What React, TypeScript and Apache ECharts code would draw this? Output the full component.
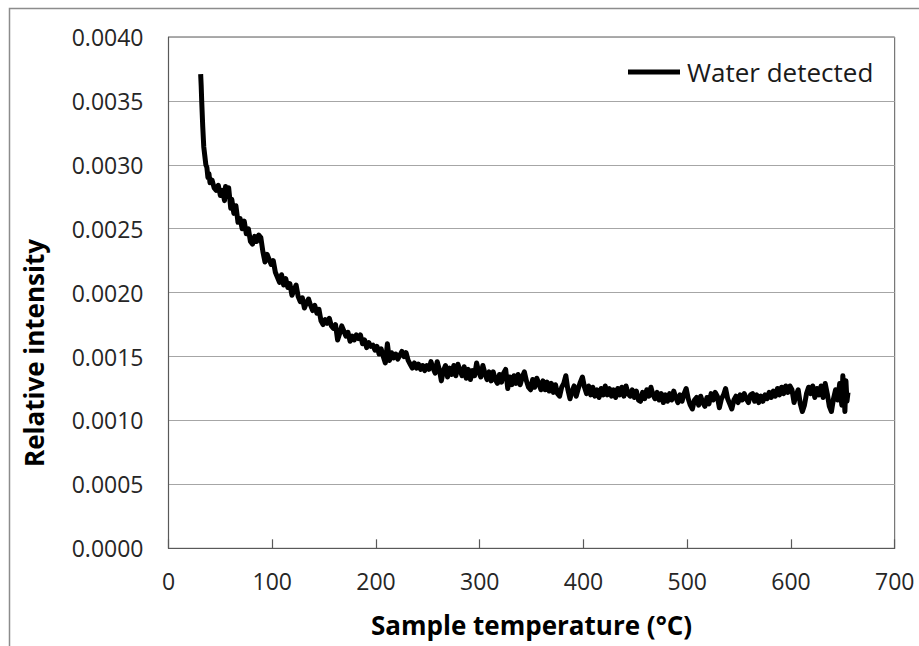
import React, { useEffect, useRef } from "react";
import * as echarts from "echarts";

const temperatures: number[] = [
  31, 31.5, 32, 33, 34, 35, 36, 37, 38, 39, 40, 42, 44, 46, 48, 50, 52, 54, 55, 56, 58, 60, 61, 63, 65, 67, 69, 71, 73, 75,
  77, 79, 81, 83, 85, 87, 89, 91, 93, 95, 97, 99, 101, 103, 105, 107, 109, 111, 113, 115, 117, 119, 121, 123, 125, 127, 129, 131, 133, 135,
  137, 139, 141, 143, 145, 147, 149, 151, 153, 155, 157, 159, 161, 163, 165, 167, 169, 171, 173, 175, 177, 179, 181, 183, 185, 187, 189, 191, 193, 195,
  197, 199, 201, 203, 205, 207, 209, 211, 213, 215, 217, 219, 221, 223, 225, 227, 229, 231, 233, 235, 237, 239, 241, 243, 245, 247, 249, 251, 253, 255,
  257, 259, 261, 263, 265, 267, 269, 271, 273, 275, 277, 279, 281, 283, 285, 287, 289, 291, 293, 295, 297, 299, 301, 303, 305, 307, 309, 311, 313, 315,
  317, 319, 321, 323, 325, 327, 329, 331, 333, 335, 337, 339, 341, 343, 345, 347, 349, 351, 353, 355, 357, 359, 361, 363, 365, 367, 369, 371, 373, 375,
  377, 379, 381, 383, 385, 387, 389, 391, 393, 395, 397, 399, 401, 403, 405, 407, 409, 411, 413, 415, 417, 419, 421, 423, 425, 427, 429, 431, 433, 435,
  437, 439, 441, 443, 445, 447, 449, 451, 453, 455, 457, 459, 461, 463, 465, 467, 469, 471, 473, 475, 477, 479, 481, 483, 485, 487, 489, 491, 493, 495,
  497, 499, 501, 503, 505, 507, 509, 511, 513, 515, 517, 519, 521, 523, 525, 527, 529, 531, 533, 535, 537, 539, 541, 543, 545, 547, 549, 551, 553, 555,
  557, 559, 561, 563, 565, 567, 569, 571, 573, 575, 577, 579, 581, 583, 585, 587, 589, 591, 593, 595, 597, 599, 601, 603, 605, 607, 609, 611, 613, 615,
  617, 619, 621, 623, 625, 627, 629, 631, 633, 635, 637, 639, 641, 643, 645, 647, 649, 650, 651, 652, 653, 654, 655,
];

const waterDetected: number[] = [
  0.00371, 0.00362, 0.0035, 0.0033, 0.00314, 0.00307, 0.003, 0.00298, 0.0029, 0.00293, 0.00286, 0.00288, 0.00282, 0.0028, 0.00284, 0.00276, 0.0028, 0.00272, 0.00283, 0.00278, 0.00282, 0.00266, 0.00273, 0.00262, 0.00268, 0.00255, 0.00258, 0.0025, 0.00256, 0.00246,
  0.0025, 0.0024, 0.00238, 0.00244, 0.0024, 0.00245, 0.00243, 0.00232, 0.00224, 0.0023, 0.00226, 0.00222, 0.00225, 0.00216, 0.00212, 0.00208, 0.00214, 0.00206, 0.00211, 0.00204, 0.00207, 0.00198, 0.00202, 0.00206, 0.00197, 0.00193, 0.00196, 0.00188, 0.00192, 0.00195,
  0.0019, 0.00186, 0.0019, 0.00184, 0.00187, 0.00178, 0.00175, 0.00179, 0.00176, 0.0018, 0.00174, 0.00172, 0.00175, 0.00163, 0.00168, 0.00174, 0.0017, 0.00166, 0.00169, 0.00162, 0.00166, 0.00163, 0.00167, 0.00164, 0.00167, 0.0016, 0.00163, 0.00157, 0.00161, 0.00158,
  0.00159, 0.00155, 0.00158, 0.00152, 0.00156, 0.0015, 0.00145, 0.0016, 0.00147, 0.00153, 0.00149, 0.00152, 0.00148, 0.00151, 0.00154, 0.0015, 0.00153, 0.00147, 0.00144, 0.00141, 0.00145, 0.00141, 0.00144, 0.0014, 0.00143, 0.00139, 0.00143, 0.0014, 0.00146, 0.00141,
  0.00137, 0.00146, 0.0014, 0.00131, 0.00139, 0.00143, 0.00134, 0.00141, 0.00136, 0.00143, 0.00135, 0.00144, 0.00139, 0.00135, 0.00142, 0.00133, 0.0014, 0.00132, 0.00139, 0.00135, 0.00145, 0.00138, 0.00134, 0.00143, 0.00137, 0.00132, 0.00138, 0.00131, 0.00138, 0.00132,
  0.00129, 0.00136, 0.0013, 0.00137, 0.0014, 0.00125, 0.00134, 0.00128, 0.00135, 0.00129, 0.00136, 0.00128, 0.00134, 0.00138, 0.00131, 0.00126, 0.00124, 0.00132, 0.00126, 0.00133, 0.00129, 0.00124, 0.00131, 0.00124, 0.0013, 0.00123, 0.00129, 0.00122, 0.00128, 0.00121,
  0.00119, 0.00126, 0.00129, 0.00135, 0.00124, 0.00117, 0.00123, 0.00127, 0.00119, 0.00125, 0.0013, 0.00134, 0.00126, 0.00121, 0.00127, 0.0012, 0.00126, 0.00119, 0.00124, 0.00118, 0.00125, 0.0012, 0.00127, 0.0012, 0.00125, 0.00119, 0.00124, 0.00118, 0.00125, 0.0012,
  0.00126, 0.00119, 0.00127, 0.00121, 0.00119, 0.00124, 0.00118, 0.00123, 0.00116, 0.00115, 0.00122, 0.00117, 0.00124, 0.00119, 0.00126, 0.0012, 0.00117, 0.00122, 0.00116, 0.00121, 0.00114, 0.0012, 0.00115, 0.00121, 0.00116, 0.00123, 0.00118, 0.00114, 0.0012, 0.00115,
  0.00121, 0.00125, 0.00117, 0.00112, 0.00109, 0.00116, 0.00118, 0.00112, 0.00119, 0.00114, 0.00111, 0.00118, 0.00113, 0.00121, 0.00116, 0.00122, 0.00119, 0.0011, 0.00117, 0.0012, 0.00125, 0.00117, 0.00113, 0.00109, 0.00116, 0.00119, 0.00114, 0.0012, 0.00116, 0.00121,
  0.00117, 0.00114, 0.0012, 0.00121, 0.00115, 0.0012, 0.00114, 0.00119, 0.00115, 0.0012, 0.00117, 0.00122, 0.00118, 0.00123, 0.00119, 0.00125, 0.0012, 0.00126, 0.00121, 0.00127, 0.00122, 0.00127, 0.00124, 0.00114, 0.0012, 0.00124, 0.00113, 0.00107, 0.00112, 0.00121,
  0.00126, 0.00121, 0.00127, 0.00118, 0.00125, 0.0012, 0.00127, 0.00118, 0.00129, 0.00121, 0.00111, 0.00107, 0.00117, 0.00124, 0.00116, 0.00129, 0.00112, 0.00135, 0.00123, 0.00107, 0.00131, 0.00115, 0.00122,
];

const xTicks = { min: 0, max: 700, interval: 100 };
const yTicks = { min: 0, max: 0.004, interval: 0.0005 };
const seriesName = "Water detected";
const xTitle = "Sample temperature (°C)";
const yTitle = "Relative intensity";

const FONT = "'Open Sans', 'Liberation Sans', sans-serif";

export default function App() {
  const ref = useRef<HTMLDivElement>(null);
  useEffect(() => {
    document.body.style.margin = "0";
    if (!ref.current) return;
    const chart = echarts.init(ref.current, null, { renderer: "svg" });
    const points = temperatures.map((t, i) => [t, waterDetected[i]]);
    chart.setOption({
      animation: false,
      backgroundColor: "#ffffff",
      textStyle: { fontFamily: FONT },
      grid: {
        left: 168.5,
        top: 37,
        right: 24.3,
        bottom: 97.7,
        show: true,
        borderColor: "#595959",
        borderWidth: 1,
        containLabel: false,
      },
      legend: {
        show: true,
        left: 623,
        top: 54,
        icon: "rect",
        itemWidth: 52,
        itemHeight: 5,
        textStyle: { fontFamily: FONT, fontSize: 26, color: "#1a1a1a", padding: [0, 0, 0, 2] },
        data: [{ name: seriesName, itemStyle: { color: "#000" } }],
      },
      xAxis: {
        type: "value",
        min: xTicks.min,
        max: xTicks.max,
        interval: xTicks.interval,
        name: xTitle,
        nameLocation: "middle",
        nameGap: 64,
        nameTextStyle: { fontFamily: FONT, fontSize: 26, fontWeight: "bold", color: "#000" },
        axisLine: { show: true, lineStyle: { color: "#595959", width: 1.2 } },
        axisTick: { show: true, inside: true, length: 9, lineStyle: { color: "#595959", width: 1.2 } },
        axisLabel: { fontFamily: FONT, fontSize: 23, color: "#262626", margin: 21 },
        splitLine: { show: false },
      },
      yAxis: {
        type: "value",
        min: yTicks.min,
        max: yTicks.max,
        interval: yTicks.interval,
        axisLine: { show: true, lineStyle: { color: "#595959", width: 1.2 } },
        axisTick: { show: false },
        axisLabel: {
          fontFamily: FONT,
          fontSize: 23,
          color: "#262626",
          margin: 25,
          formatter: (v: number) => v.toFixed(4),
        },
        splitLine: { show: true, lineStyle: { color: "#a6a6a6", width: 1.2 } },
      },
      graphic: [
        {
          type: "rect",
          shape: { x: 9.5, y: 8.5, width: 930, height: 660 },
          style: { fill: "none", stroke: "#8c8c8c", lineWidth: 1.5 },
          silent: true,
          z: -1,
        },
        {
          type: "text",
          x: 34,
          y: 353,
          rotation: Math.PI / 2,
          style: {
            text: yTitle,
            font: `bold 26px ${FONT}`,
            fill: "#000",
            textAlign: "center",
            textVerticalAlign: "middle",
          },
        },
      ],
      series: [
        {
          name: seriesName,
          type: "line",
          data: points,
          showSymbol: false,
          symbol: "none",
          lineStyle: { color: "#000", width: 5, join: "round" },
          itemStyle: { color: "#000" },
        },
      ],
    });
    return () => chart.dispose();
  }, []);
  return <div ref={ref} style={{ width: 919, height: 646 }} />;
}
